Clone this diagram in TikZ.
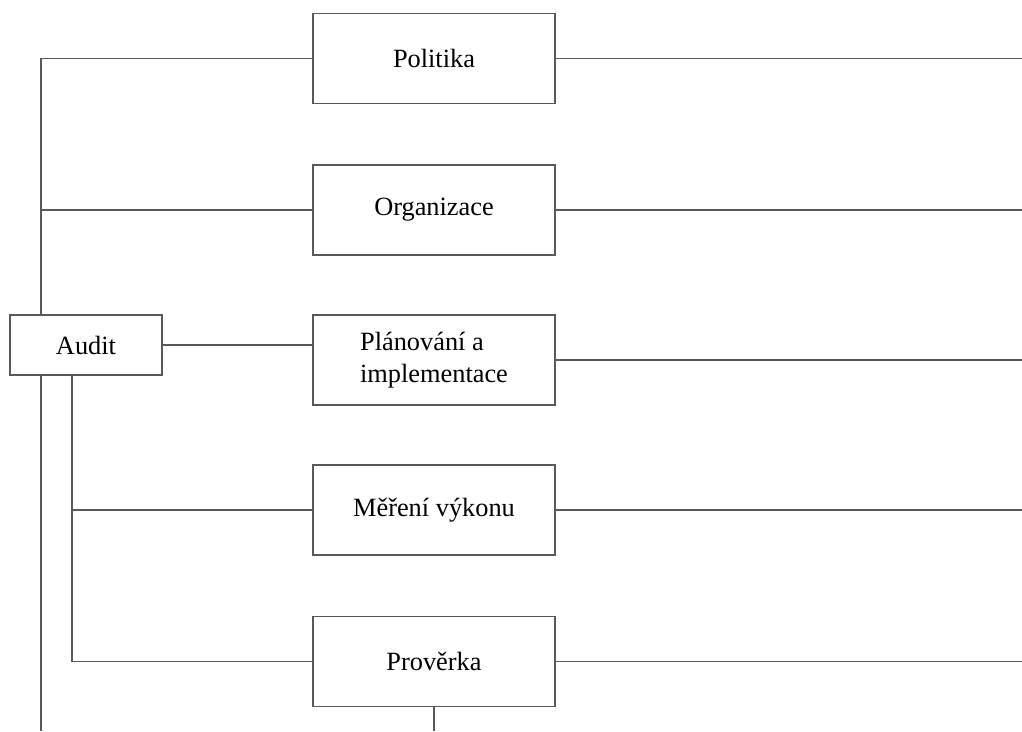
\documentclass[tikz,border=0pt]{standalone}
\usepackage{fontspec}
\setmainfont{Liberation Serif}
\usepackage{tikz}
\definecolor{linecol}{gray}{0.35}

\begin{document}
\begin{tikzpicture}[x=0.02cm, y=-0.02cm,
    box/.style={draw=linecol, line width=0.8pt, minimum width=4.84cm, minimum height=1.8cm, font=\fontsize{15}{18}\selectfont, inner sep=4pt},
    conn/.style={draw=linecol, line width=0.8pt},
]
  \useasboundingbox (0, 0) rectangle (1022, 731);

  % === Audit ===
  \node[box, minimum width=3.04cm, minimum height=1.2cm] (audit) at (86, 345) {Audit};

  % === Elements ===
  \node[box] (politika) at (434, 58.5) {Politika};
  \node[box] (organizace) at (434, 210) {Organizace};
  \node[box, align=left] (planovani) at (434, 360) {Plánování a\\implementace};
  \node[box] (mereni) at (434, 510) {Měření výkonu};
  \node[box] (proverka) at (434, 661.5) {Prověrka};

  % === Helper coordinates ===
  \coordinate (lt) at (41, 58.5);
  \coordinate (lb) at (41, 731);
  \coordinate (mx) at (72, 0);
  \coordinate (re) at (1022, 0);

  % === Left connectors ===
  \draw[conn] (politika.west) -| (audit.north -| lt);
  \draw[conn] (organizace.west) -- (organizace.west -| lt);
  \draw[conn] (audit.south -| lb) -- (lb);
  \draw[conn] (audit.east) -- (audit.east -| planovani.west);
  \draw[conn] (audit.south -| mx) |- (proverka.west);
  \draw[conn] (mereni.west) -- (mereni.west -| mx);

  % === Right connectors ===
  \draw[conn] (politika.east) -- (politika.east -| re);
  \draw[conn] (organizace.east) -- (organizace.east -| re);
  \draw[conn] (planovani.east) -- (planovani.east -| re);
  \draw[conn] (mereni.east) -- (mereni.east -| re);
  \draw[conn] (proverka.east) -- (proverka.east -| re);
  \draw[conn] (proverka.south) -- (proverka.south |- lb);
\end{tikzpicture}
\end{document}
